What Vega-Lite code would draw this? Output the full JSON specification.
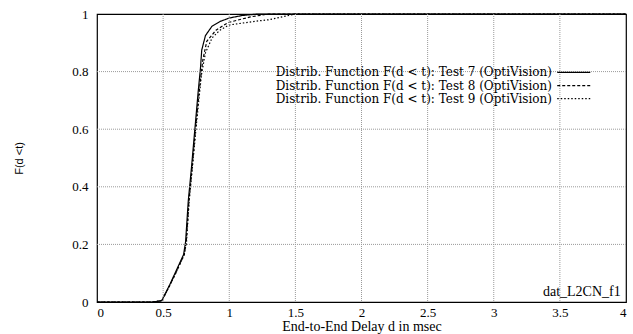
{
  "$schema": "https://vega.github.io/schema/vega-lite/v6.json",
  "autosize": {"type": "none"},
  "padding": {"left": 97, "top": 14, "right": 7, "bottom": 32},
  "width": 529,
  "height": 288,
  "background": "white",
  "config": {
    "view": {"stroke": "black", "strokeWidth": 1.2},
    "axis": {
      "labelFont": "Liberation Serif",
      "labelFontSize": 13,
      "labelColor": "black",
      "titleFont": "Liberation Serif",
      "titleFontSize": 14,
      "titleFontWeight": "normal",
      "titleColor": "black",
      "domain": false,
      "ticks": false,
      "grid": false
    }
  },
  "datasets": {
    "curves": [
      {"series": "Test 7", "x": 0, "y": 0},
      {"series": "Test 7", "x": 0.42, "y": 0},
      {"series": "Test 7", "x": 0.49, "y": 0.005},
      {"series": "Test 7", "x": 0.55, "y": 0.06},
      {"series": "Test 7", "x": 0.59, "y": 0.1},
      {"series": "Test 7", "x": 0.64, "y": 0.15},
      {"series": "Test 7", "x": 0.655, "y": 0.165},
      {"series": "Test 7", "x": 0.67, "y": 0.21},
      {"series": "Test 7", "x": 0.69, "y": 0.35},
      {"series": "Test 7", "x": 0.715, "y": 0.47},
      {"series": "Test 7", "x": 0.74, "y": 0.6},
      {"series": "Test 7", "x": 0.765, "y": 0.73},
      {"series": "Test 7", "x": 0.782, "y": 0.81},
      {"series": "Test 7", "x": 0.792, "y": 0.875},
      {"series": "Test 7", "x": 0.82, "y": 0.925},
      {"series": "Test 7", "x": 0.87, "y": 0.958},
      {"series": "Test 7", "x": 0.93, "y": 0.974},
      {"series": "Test 7", "x": 1.0, "y": 0.986},
      {"series": "Test 7", "x": 1.1, "y": 0.995},
      {"series": "Test 7", "x": 1.22, "y": 1.0},
      {"series": "Test 7", "x": 4, "y": 1.0},
      {"series": "Test 8", "x": 0, "y": 0},
      {"series": "Test 8", "x": 0.42, "y": 0},
      {"series": "Test 8", "x": 0.49, "y": 0.004},
      {"series": "Test 8", "x": 0.55, "y": 0.058},
      {"series": "Test 8", "x": 0.595, "y": 0.1},
      {"series": "Test 8", "x": 0.645, "y": 0.15},
      {"series": "Test 8", "x": 0.66, "y": 0.165},
      {"series": "Test 8", "x": 0.675, "y": 0.21},
      {"series": "Test 8", "x": 0.695, "y": 0.35},
      {"series": "Test 8", "x": 0.72, "y": 0.47},
      {"series": "Test 8", "x": 0.745, "y": 0.6},
      {"series": "Test 8", "x": 0.77, "y": 0.72},
      {"series": "Test 8", "x": 0.787, "y": 0.79},
      {"series": "Test 8", "x": 0.8, "y": 0.84},
      {"series": "Test 8", "x": 0.83, "y": 0.905},
      {"series": "Test 8", "x": 0.9, "y": 0.944},
      {"series": "Test 8", "x": 0.99, "y": 0.97},
      {"series": "Test 8", "x": 1.16, "y": 0.99},
      {"series": "Test 8", "x": 1.3, "y": 1.0},
      {"series": "Test 8", "x": 4, "y": 1.0},
      {"series": "Test 9", "x": 0, "y": 0},
      {"series": "Test 9", "x": 0.42, "y": 0},
      {"series": "Test 9", "x": 0.49, "y": 0.004},
      {"series": "Test 9", "x": 0.55, "y": 0.057},
      {"series": "Test 9", "x": 0.595, "y": 0.1},
      {"series": "Test 9", "x": 0.645, "y": 0.15},
      {"series": "Test 9", "x": 0.66, "y": 0.165},
      {"series": "Test 9", "x": 0.677, "y": 0.21},
      {"series": "Test 9", "x": 0.697, "y": 0.35},
      {"series": "Test 9", "x": 0.722, "y": 0.47},
      {"series": "Test 9", "x": 0.748, "y": 0.6},
      {"series": "Test 9", "x": 0.772, "y": 0.71},
      {"series": "Test 9", "x": 0.79, "y": 0.79},
      {"series": "Test 9", "x": 0.82, "y": 0.865},
      {"series": "Test 9", "x": 0.87, "y": 0.917},
      {"series": "Test 9", "x": 0.93, "y": 0.944},
      {"series": "Test 9", "x": 1.0, "y": 0.962},
      {"series": "Test 9", "x": 1.2, "y": 0.975},
      {"series": "Test 9", "x": 1.3, "y": 0.98},
      {"series": "Test 9", "x": 1.45, "y": 0.995},
      {"series": "Test 9", "x": 1.5, "y": 1.0},
      {"series": "Test 9", "x": 4, "y": 1.0}
    ],
    "xgrid": [{"v": 0.5}, {"v": 1}, {"v": 1.5}, {"v": 2}, {"v": 2.5}, {"v": 3}, {"v": 3.5}],
    "ygrid": [{"v": 0.2}, {"v": 0.4}, {"v": 0.6}, {"v": 0.8}],
    "legend": [
      {"series": "Test 7", "label": "Distrib. Function F(d < t): Test 7 (OptiVision)", "tx": 3.44, "x1": 3.48, "x2": 3.73, "y": 0.797},
      {"series": "Test 8", "label": "Distrib. Function F(d < t): Test 8 (OptiVision)", "tx": 3.44, "x1": 3.48, "x2": 3.73, "y": 0.7515},
      {"series": "Test 9", "label": "Distrib. Function F(d < t): Test 9 (OptiVision)", "tx": 3.44, "x1": 3.48, "x2": 3.73, "y": 0.706}
    ],
    "note": [
      {"label": "dat_L2CN_f1", "x": 3.96, "y": 0.035}
    ]
  },
  "layer": [
    {
      "data": {"name": "curves"},
      "mark": {"type": "line", "color": "black", "strokeWidth": 1.2},
      "encoding": {
        "x": {
          "field": "x", "type": "quantitative",
          "scale": {"domain": [0, 4], "nice": false, "zero": false},
          "axis": {"values": [0, 0.5, 1, 1.5, 2, 2.5, 3, 3.5, 4], "format": "~g", "title": "End-to-End Delay d in msec", "labelPadding": 4, "titlePadding": 0}
        },
        "y": {
          "field": "y", "type": "quantitative",
          "scale": {"domain": [0, 1], "nice": false},
          "axis": {"values": [0, 0.2, 0.4, 0.6, 0.8, 1], "format": "~g", "title": "F(d <t)", "titleFont": "Liberation Sans", "titleFontSize": 11, "labelPadding": 9, "titlePadding": 47}
        },
        "detail": {"field": "series"},
        "strokeDash": {
          "field": "series", "type": "nominal",
          "scale": {"domain": ["Test 7", "Test 8", "Test 9"], "range": [[1, 0], [3, 2], [1.5, 2]]},
          "legend": null
        }
      }
    },
    {
      "data": {"name": "xgrid"},
      "mark": {"type": "rule", "color": "#9a9a9a", "strokeWidth": 1, "strokeDash": [1, 1]},
      "encoding": {
        "x": {"field": "v", "type": "quantitative"}
      }
    },
    {
      "data": {"name": "ygrid"},
      "mark": {"type": "rule", "color": "#9a9a9a", "strokeWidth": 1, "strokeDash": [1, 1]},
      "encoding": {
        "y": {"field": "v", "type": "quantitative"}
      }
    },
    {
      "data": {"name": "legend"},
      "mark": {"type": "text", "align": "right", "baseline": "middle", "font": "DejaVu Serif", "fontSize": 12, "color": "black"},
      "encoding": {
        "x": {"field": "tx", "type": "quantitative"},
        "y": {"field": "y", "type": "quantitative"},
        "text": {"field": "label"}
      }
    },
    {
      "data": {"name": "legend"},
      "mark": {"type": "rule", "color": "black", "strokeWidth": 1.2},
      "encoding": {
        "x": {"field": "x1", "type": "quantitative"},
        "x2": {"field": "x2"},
        "y": {"field": "y", "type": "quantitative"},
        "strokeDash": {"field": "series", "type": "nominal", "legend": null}
      }
    },
    {
      "data": {"name": "note"},
      "mark": {"type": "text", "align": "right", "baseline": "middle", "font": "Liberation Serif", "fontSize": 14, "color": "black"},
      "encoding": {
        "x": {"field": "x", "type": "quantitative"},
        "y": {"field": "y", "type": "quantitative"},
        "text": {"field": "label"}
      }
    }
  ]
}
